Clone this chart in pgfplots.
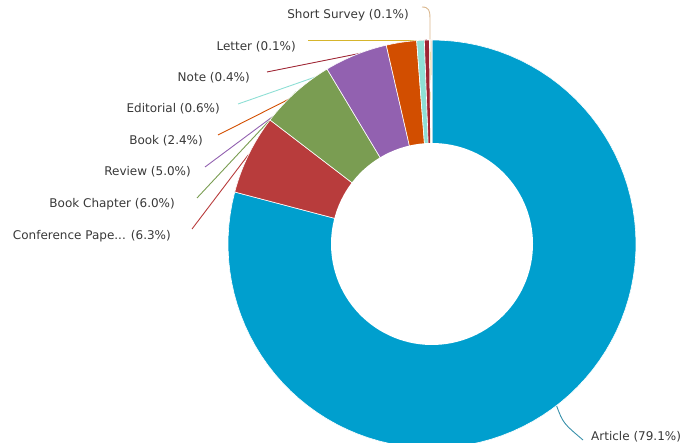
\documentclass[border=0pt]{standalone}
\usepackage{pgfplots}
\pgfplotsset{compat=1.18}
\usepackage{pgfplotstable}
\usepackage{fontspec}
\setmainfont{DejaVu Sans}

\definecolor{sl0}{HTML}{009FCE}
\definecolor{sl1}{HTML}{B83C3C}
\definecolor{sl2}{HTML}{7A9D52}
\definecolor{sl3}{HTML}{9261B0}
\definecolor{sl4}{HTML}{D24E00}
\definecolor{sl5}{HTML}{8EDFD5}
\definecolor{sl6}{HTML}{9E2433}
\definecolor{sl7}{HTML}{D6B52C}
\definecolor{sl8}{HTML}{D9B68C}
\definecolor{txt}{HTML}{383838}

% document types, share in percent (clockwise from 12 o'clock)
\pgfplotstableread{
type value
Article 79.1
Conference 6.3
BookChapter 6.0
Review 5.0
Book 2.4
Editorial 0.6
Note 0.4
Letter 0.1
ShortSurvey 0.1
}\datatable

\def\cx{432}
\def\cy{199}
\def\R{204}
\def\r{101}

% start/end angles of each slice
\xdef\acc{90}
\pgfplotsforeachungrouped \i in {0,...,8}{%
  \pgfplotstablegetelem{\i}{value}\of\datatable
  \pgfmathsetmacro\e{\acc-3.6*\pgfplotsretval}%
  \expandafter\xdef\csname s\i\endcsname{\acc}%
  \expandafter\xdef\csname e\i\endcsname{\e}%
  \xdef\acc{\e}%
}

\begin{document}
\begin{tikzpicture}
\begin{axis}[
    width=680pt, height=443pt, scale only axis,
    xmin=0, xmax=680, ymin=0, ymax=443,
    hide axis,
  ]
  % leader lines (under the ring)
  \begin{scope}[line width=0.9pt]
  \draw[sl8] (422,436) .. controls (429,436) and (430,432) .. (430,425) -- (430,403);
  \draw[sl7] (308,403) -- (430,403);
  \draw[sl6] (267,371) -- (427,403);
  \draw[sl5] (238,339) -- (420.5,402.7);
  \draw[sl4] (218,308) -- (401.4,400.7);
  \draw[sl3] (205,276) -- (355.9,388.3);
  \draw[sl2] (197,245) -- (296.3,351.3);
  \draw[sl1] (192,214) -- (248.8,288.8);
  \draw[color=sl0!55!gray] (556.5,37.4) .. controls (563,20) .. (583,3);
  \end{scope}

  % slices
  \pgfplotsinvokeforeach{0,...,8}{
    \addplot[fill=sl#1, draw=white, line width=0.6pt, samples=90,
      domain=\csname e#1\endcsname:\csname s#1\endcsname]
      ({\cx+\R*cos(x)}, {\cy+\R*sin(x)}) -- (\cx,\cy) -- cycle;
  }
  % hole
  \addplot[fill=white, draw=none, samples=120, domain=0:360]
    ({\cx+\r*cos(x)}, {\cy+\r*sin(x)}) -- cycle;

  \begin{scope}[every node/.style={inner sep=0pt, text=txt, font=\fontsize{12}{14}\selectfont}]
  \node[anchor=east] at (409,428) {Short Survey (0.1\%)};
  \node[anchor=east] at (296,396) {Letter (0.1\%)};
  \node[anchor=east] at (250,365) {Note (0.4\%)};
  \node[anchor=east] at (220,334) {Editorial (0.6\%)};
  \node[anchor=east] at (203,302) {Book (2.4\%)};
  \node[anchor=east] at (191,271) {Review (5.0\%)};
  \node[anchor=east] at (175,239) {Book Chapter (6.0\%)};
  \node[anchor=east] at (171,207) {Conference Pape... (6.3\%)};
  \node[anchor=west] at (591,6) {Article (79.1\%)};
  \end{scope}
\end{axis}
\pgfresetboundingbox
\path (current axis.south west) rectangle (current axis.north east);
\end{tikzpicture}
\end{document}
